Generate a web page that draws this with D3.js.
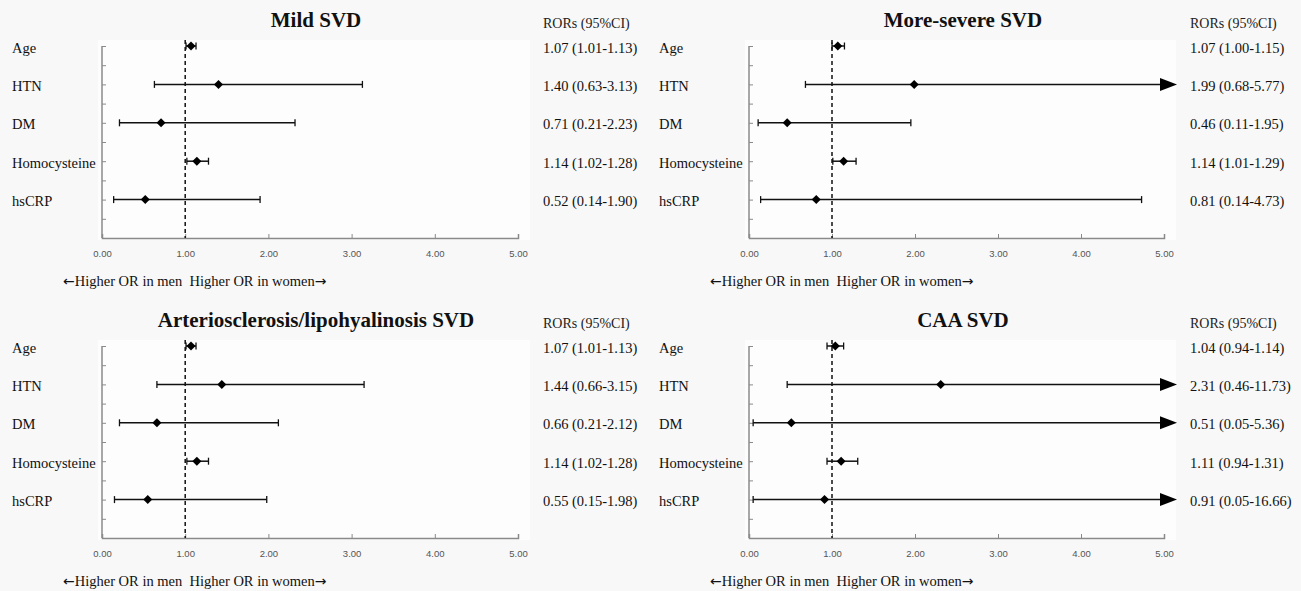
<!DOCTYPE html>
<html>
<head>
<meta charset="utf-8">
<script src="https://cdn.jsdelivr.net/npm/d3@7"></script>
<style>
  html, body { margin: 0; padding: 0; background: #f8f8f8; }
  svg { display: block; }
</style>
</head>
<body>
<svg id="chart" width="1301" height="591"></svg>
<script>
// ---------- DATA ----------
const categories = ["Age", "HTN", "DM", "Homocysteine", "hsCRP"];
const rowPositions = [5, 4, 3, 2, 1];
const xTicks = [0, 1, 2, 3, 4, 5];
const yTicks = [0, 0.5, 1, 1.5, 2, 2.5, 3, 3.5, 4, 4.5, 5];
const panelTitles = ["Mild SVD", "More-severe SVD", "Arteriosclerosis/lipohyalinosis SVD", "CAA SVD"];
const columnHeader = "RORs (95%CI)";
const footerParts = ["\u2190", "Higher OR in men  Higher OR in women", "\u2192"];

// point estimates and CI bounds (as plotted)
const mildOR   = [1.07, 1.40, 0.71, 1.14, 0.52];
const mildLow  = [1.01, 0.63, 0.21, 1.02, 0.14];
const mildHigh = [1.13, 3.13, 2.32, 1.28, 1.90];
const mildText = ["1.07 (1.01-1.13)", "1.40 (0.63-3.13)", "0.71 (0.21-2.23)", "1.14 (1.02-1.28)", "0.52 (0.14-1.90)"];

const severeOR   = [1.07, 1.99, 0.46, 1.14, 0.81];
const severeLow  = [1.00, 0.68, 0.11, 1.01, 0.14];
const severeHigh = [1.15, 5.77, 1.95, 1.29, 4.73];
const severeText = ["1.07 (1.00-1.15)", "1.99 (0.68-5.77)", "0.46 (0.11-1.95)", "1.14 (1.01-1.29)", "0.81 (0.14-4.73)"];

const arterioOR   = [1.07, 1.44, 0.66, 1.14, 0.55];
const arterioLow  = [1.01, 0.66, 0.21, 1.02, 0.15];
const arterioHigh = [1.13, 3.15, 2.12, 1.28, 1.98];
const arterioText = ["1.07 (1.01-1.13)", "1.44 (0.66-3.15)", "0.66 (0.21-2.12)", "1.14 (1.02-1.28)", "0.55 (0.15-1.98)"];

const caaOR   = [1.04, 2.31, 0.51, 1.11, 0.91];
const caaLow  = [0.94, 0.46, 0.05, 0.94, 0.05];
const caaHigh = [1.14, 11.73, 5.36, 1.31, 16.66];
const caaText = ["1.04 (0.94-1.14)", "2.31 (0.46-11.73)", "0.51 (0.05-5.36)", "1.11 (0.94-1.31)", "0.91 (0.05-16.66)"];

// ---------- DRAW ----------
const svg = d3.select("#chart");
const serif = "'Liberation Serif', 'Times New Roman', serif";
const sans = "'Liberation Sans', Arial, sans-serif";

const panels = [
  { title: panelTitles[0], or: mildOR, lo: mildLow, hi: mildHigh, txt: mildText, col: 0, row: 0 },
  { title: panelTitles[1], or: severeOR, lo: severeLow, hi: severeHigh, txt: severeText, col: 1, row: 0 },
  { title: panelTitles[2], or: arterioOR, lo: arterioLow, hi: arterioHigh, txt: arterioText, col: 0, row: 1 },
  { title: panelTitles[3], or: caaOR, lo: caaLow, hi: caaHigh, txt: caaText, col: 1, row: 1 }
];

panels.forEach(p => {
  const ox = p.col === 0 ? 0 : 647;
  const oy = p.row * 300;
  const g = svg.append("g").attr("transform", `translate(${ox},${oy})`);

  const axisX = 102;
  const endX = p.col === 0 ? 518 : 517;
  const x = d3.scaleLinear().domain([0, 5]).range([axisX, endX]);
  const y = d3.scaleLinear().domain([0, 5]).range([238, 46]);
  const xMax = 5;

  // plot area (slightly lighter)
  g.append("rect")
    .attr("x", axisX - 4).attr("y", 40)
    .attr("width", endX - axisX + 16).attr("height", 200)
    .attr("fill", "#fdfdfd");

  // title
  g.append("text")
    .attr("x", 316).attr("y", 27)
    .attr("text-anchor", "middle")
    .attr("font-family", serif).attr("font-weight", "bold").attr("font-size", 21)
    .attr("fill", "#111")
    .text(p.title);

  // header
  g.append("text")
    .attr("x", 543).attr("y", 28)
    .attr("font-family", serif).attr("font-size", 14).attr("fill", "#222")
    .text(columnHeader);

  // x axis
  const xAxis = d3.axisBottom(x).tickValues(xTicks).tickSize(-4).tickPadding(12)
    .tickFormat(d3.format(".2f"));
  const gx = g.append("g").attr("transform", `translate(0,${y(0)})`).call(xAxis);
  gx.select(".domain").attr("stroke", "#8a8a8a").attr("stroke-width", 1.5);
  gx.selectAll(".tick line").attr("stroke", "#8a8a8a");
  gx.selectAll(".tick text").attr("font-family", sans).attr("font-size", 9.5).attr("fill", "#555");

  // y axis
  const yAxis = d3.axisLeft(y).tickValues(yTicks).tickSize(-4).tickFormat("");
  const gy = g.append("g").attr("transform", `translate(${axisX},0)`).call(yAxis);
  gy.select(".domain").attr("stroke", "#8a8a8a").attr("stroke-width", 1.5)
    .attr("d", `M0,${y(5)}V${y(0)}`);
  gy.selectAll(".tick line").attr("stroke", "#8a8a8a");

  // reference line at 1
  g.append("line")
    .attr("x1", x(1)).attr("x2", x(1))
    .attr("y1", 40).attr("y2", y(0))
    .attr("stroke", "#111").attr("stroke-width", 1.5)
    .attr("stroke-dasharray", "4,3");

  // rows
  categories.forEach((c, i) => {
    const yy = y(rowPositions[i]);
    g.append("text")
      .attr("x", 12).attr("y", yy + 6.5)
      .attr("font-family", serif).attr("font-size", 14.5).attr("fill", "#111")
      .text(c);
    g.append("text")
      .attr("x", 543).attr("y", yy + 6.5)
      .attr("font-family", serif).attr("font-size", 14.5).attr("fill", "#111")
      .text(p.txt[i]);

    const lo = p.lo[i], hi = p.hi[i];
    const clipped = hi > xMax;
    const xr = clipped ? x(xMax) : x(hi);
    g.append("line")
      .attr("x1", x(lo)).attr("x2", xr)
      .attr("y1", yy).attr("y2", yy)
      .attr("stroke", "#111").attr("stroke-width", 1.5);
    g.append("line")
      .attr("x1", x(lo)).attr("x2", x(lo))
      .attr("y1", yy - 3.5).attr("y2", yy + 3.5)
      .attr("stroke", "#111").attr("stroke-width", 1.3);
    if (clipped) {
      const bx = x(xMax) - 4;
      g.append("path")
        .attr("d", `M${bx},${yy - 6.5}L${bx + 17},${yy}L${bx},${yy + 6.5}Z`)
        .attr("fill", "#000");
    } else {
      g.append("line")
        .attr("x1", xr).attr("x2", xr)
        .attr("y1", yy - 3.5).attr("y2", yy + 3.5)
        .attr("stroke", "#111").attr("stroke-width", 1.3);
    }
    g.append("path")
      .attr("transform", `translate(${x(p.or[i])},${yy})`)
      .attr("d", d3.symbol().type(d3.symbolDiamond2).size(52)())
      .attr("fill", "#000");
  });

  // footer
  const ft = g.append("text")
    .attr("x", 63).attr("y", 286)
    .attr("font-family", serif).attr("font-size", 14.5).attr("fill", "#111")
    .style("white-space", "pre");
  ft.append("tspan").attr("font-family", "'DejaVu Sans', sans-serif").attr("font-size", 14).text(footerParts[0]);
  ft.append("tspan").text(footerParts[1]);
  ft.append("tspan").attr("font-family", "'DejaVu Sans', sans-serif").attr("font-size", 14).text(footerParts[2]);
});
</script>
</body>
</html>
